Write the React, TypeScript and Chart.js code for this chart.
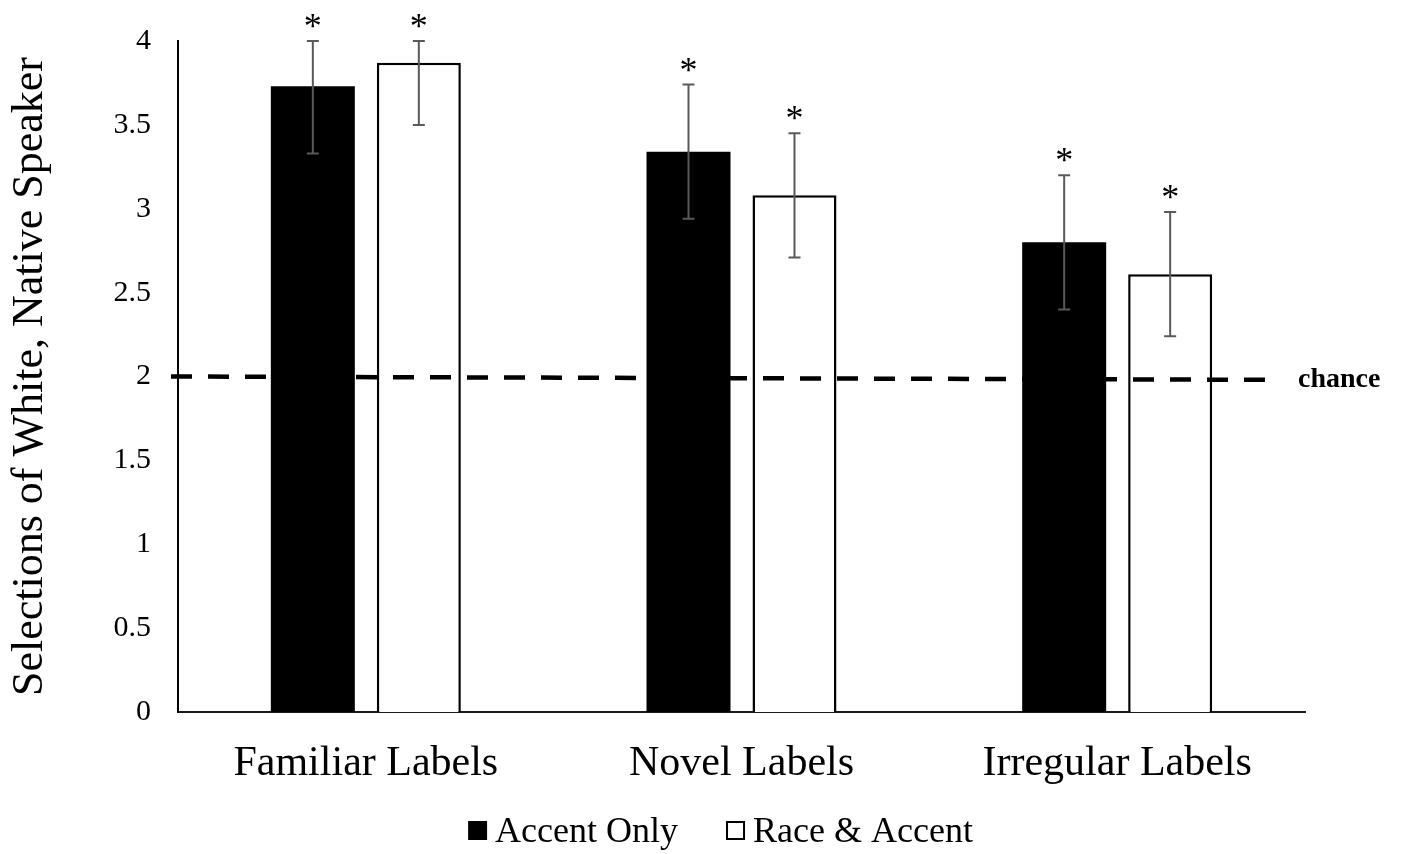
import React, { useEffect, useRef } from 'react';
import { Chart, registerables } from 'chart.js';

Chart.register(...registerables);

const categories = ['Familiar Labels', 'Novel Labels', 'Irregular Labels'];
const seriesNames = ['Accent Only', 'Race & Accent'];
const accentOnly = [3.73, 3.34, 2.8];
const raceAccent = [3.87, 3.08, 2.61];
const accentOnlyErr = [0.4, 0.4, 0.4];
const raceAccentErr = [0.37, 0.37, 0.37];
const accentOnlySig = ['*', '*', '*'];
const raceAccentSig = ['*', '*', '*'];
const chanceValues = [2.0, 1.98];
const chanceLabel = 'chance';
const yAxisTitle = 'Selections of White, Native Speaker';
const yMin = 0;
const yMax = 4;
const yStep = 0.5;

const FONT = '"Liberation Serif", "Times New Roman", serif';

const overlayPlugin = {
  id: 'overlay',
  afterDatasetsDraw(chart: any) {
    const { ctx, chartArea, scales } = chart;
    const y = scales.y;
    ctx.save();
    ctx.strokeStyle = '#000';
    ctx.lineWidth = 4.5;
    ctx.setLineDash([21, 16]);
    const x0 = chartArea.left - 7;
    const x1 = chartArea.right - 30;
    ctx.beginPath();
    ctx.moveTo(x0, y.getPixelForValue(chanceValues[0]));
    ctx.lineTo(x1, y.getPixelForValue(chanceValues[1]));
    ctx.stroke();
    ctx.setLineDash([]);
    ctx.font = `bold 28px ${FONT}`;
    ctx.fillStyle = '#000';
    ctx.textAlign = 'left';
    ctx.textBaseline = 'middle';
    ctx.fillText(chanceLabel, chartArea.right - 7, y.getPixelForValue(chanceValues[1]));

    const errs = [accentOnlyErr, raceAccentErr];
    const sigs = [accentOnlySig, raceAccentSig];
    chart.data.datasets.forEach((ds: any, di: number) => {
      const meta = chart.getDatasetMeta(di);
      meta.data.forEach((bar: any, i: number) => {
        const v = ds.data[i];
        const e = errs[di][i];
        const top = y.getPixelForValue(Math.min(v + e, y.max));
        const bot = y.getPixelForValue(Math.max(v - e, y.min));
        const x = bar.x;
        ctx.strokeStyle = '#595959';
        ctx.lineWidth = 2;
        ctx.beginPath();
        ctx.moveTo(x, top);
        ctx.lineTo(x, bot);
        ctx.moveTo(x - 6, top);
        ctx.lineTo(x + 6, top);
        ctx.moveTo(x - 6, bot);
        ctx.lineTo(x + 6, bot);
        ctx.stroke();
        const s = sigs[di][i];
        if (s) {
          ctx.font = `36px ${FONT}`;
          ctx.fillStyle = '#000';
          ctx.textAlign = 'center';
          ctx.textBaseline = 'alphabetic';
          ctx.fillText(s, x, top - 3);
        }
      });
    });
    ctx.restore();
  },
  afterDraw(chart: any) {
    const { ctx } = chart;
    ctx.save();
    const fontSize = 36;
    ctx.font = `${fontSize}px ${FONT}`;
    const box = 19;
    const gapBoxText = 8;
    const gapItems = 48;
    const items = chart.data.datasets.map((ds: any) => ({
      text: ds.label,
      fill: ds.backgroundColor,
      stroke: ds.borderColor,
      bw: ds.borderWidth,
      w: box + gapBoxText + ctx.measureText(ds.label).width,
    }));
    const total = items.reduce((a: number, it: any) => a + it.w, 0) + gapItems * (items.length - 1);
    const cx = chart.width / 2 + 19;
    let x = cx - total / 2;
    const baseline = 842;
    const boxTop = 821;
    items.forEach((it: any) => {
      ctx.fillStyle = it.fill;
      ctx.fillRect(x, boxTop, box, box);
      if (it.bw) {
        ctx.strokeStyle = it.stroke;
        ctx.lineWidth = 2;
        ctx.strokeRect(x + 1, boxTop + 1, box - 2, box - 2);
      }
      ctx.fillStyle = '#000';
      ctx.textAlign = 'left';
      ctx.textBaseline = 'alphabetic';
      ctx.fillText(it.text, x + box + gapBoxText, baseline);
      x += it.w + gapItems;
    });
    ctx.restore();
  },
};

export default function App() {
  const ref = useRef<HTMLCanvasElement | null>(null);
  useEffect(() => {
    if (!ref.current) return;
    const chart = new Chart(ref.current, {
      type: 'bar',
      data: {
        labels: categories,
        datasets: [
          {
            label: seriesNames[0],
            data: accentOnly,
            backgroundColor: '#000000',
            borderColor: '#000000',
            borderWidth: 0,
            categoryPercentage: 0.5643,
            barPercentage: 0.7925,
          },
          {
            label: seriesNames[1],
            data: raceAccent,
            backgroundColor: '#ffffff',
            borderColor: '#000000',
            borderWidth: 2.5,
            categoryPercentage: 0.5643,
            barPercentage: 0.7925,
          },
        ],
      },
      options: {
        responsive: false,
        animation: false,
        layout: { padding: { left: 4, right: 98, top: 41, bottom: 0 } },
        plugins: {
          legend: { display: false },
          tooltip: { enabled: false },
        },
        scales: {
          x: {
            grid: { display: false, drawTicks: false },
            border: { display: true, color: '#1a1a1a', width: 2 },
            ticks: { font: { family: FONT, size: 42 }, color: '#000', padding: 27 },
            afterFit: (s: any) => {
              s.height = 142;
            },
          },
          y: {
            min: yMin,
            max: yMax,
            ticks: {
              stepSize: yStep,
              font: { family: FONT, size: 30 },
              color: '#000',
              padding: 27,
              callback: (v: any) => String(Number(v)),
            },
            grid: { display: false, drawTicks: false },
            border: { display: true, color: '#000', width: 2 },
            title: {
              display: true,
              text: yAxisTitle,
              font: { family: FONT, size: 44 },
              color: '#000',
              padding: 0,
            },
            afterFit: (s: any) => {
              s.width = 174;
              s.paddingTop = 15;
              s.paddingBottom = 15;
            },
          },
        },
      },
      plugins: [overlayPlugin],
    });
    return () => chart.destroy();
  }, []);
  return (
    <div style={{ position: 'absolute', left: 0, top: 0, width: 1403, height: 854, background: '#fff' }}>
      <canvas ref={ref} width={1403} height={854} style={{ display: 'block' }} />
    </div>
  );
}
